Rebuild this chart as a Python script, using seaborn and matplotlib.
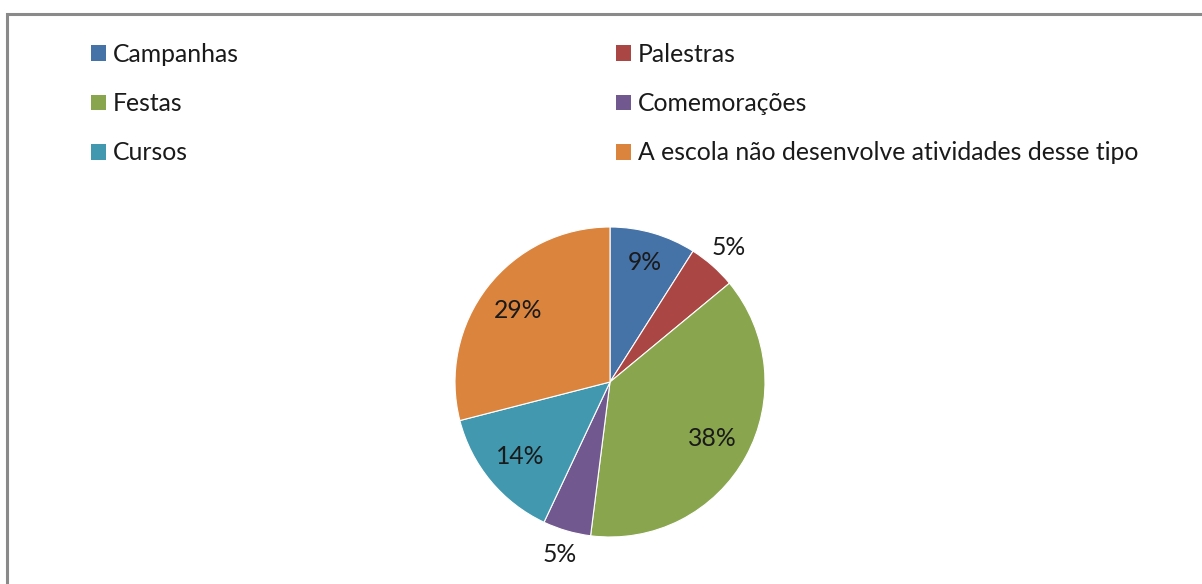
import numpy as np
import matplotlib
matplotlib.use("Agg")
import matplotlib.pyplot as plt
import seaborn as sns
from matplotlib.patches import Patch, Rectangle

categories = ["Campanhas", "Palestras", "Festas", "Comemorações", "Cursos",
              "A escola não desenvolve atividades desse tipo"]
values = [9, 5, 38, 5, 14, 29]
colors = ["#4572A7", "#AA4643", "#89A54E", "#71588F", "#4198AF", "#DB843D"]

sns.set_theme(style="white")
plt.rcParams['font.family'] = ['Lato', 'DejaVu Sans']
FS = 17.8

W, H = 1202, 584
fig = plt.figure(figsize=(W / 100, H / 100), dpi=100)
fig.patch.set_facecolor("white")

# frame (cut at right and bottom like the reference)
fig.patches.append(Rectangle((7 / W, -0.1), 1.2, (H - 14) / H + 0.1, transform=fig.transFigure,
                             fill=False, edgecolor="#8a8a8a", linewidth=2.2))

cx, cy, r = 610, 382, 155
ax = fig.add_axes([(cx - r) / W, (H - cy - r) / H, 2 * r / W, 2 * r / H])
wedges, texts, autotexts = ax.pie(values, colors=colors, startangle=90, counterclock=False,
                                  autopct=lambda p: f"{p:.0f}%", pctdistance=0.75,
                                  wedgeprops=dict(linewidth=0.8, edgecolor="white"),
                                  textprops=dict(fontsize=FS, color="#1a1a1a"))
ax.set_xlim(-1, 1)
ax.set_ylim(-1, 1)
ax.set_aspect("equal")
ax.axis("off")

# label placement like Excel's best fit: small slices outside
for w, t, v in zip(wedges, autotexts, values):
    ang = np.deg2rad((w.theta1 + w.theta2) / 2)
    if v <= 5:
        d = 1.16
    elif v < 10:
        d = 0.80
    else:
        d = 0.75
    t.set_position((d * np.cos(ang), d * np.sin(ang)))
    t.set_clip_on(False)

handles = [Patch(facecolor=c, edgecolor="none") for c in colors]
col1 = [0, 2, 4]
col2 = [1, 3, 5]
for idx, x0 in ((col1, 91), (col2, 616)):
    leg = fig.legend([handles[i] for i in idx], [categories[i] for i in idx],
                     loc="upper left", bbox_to_anchor=(x0 / W, 1 - 43 / H),
                     frameon=False, fontsize=FS, borderpad=0, borderaxespad=0,
                     handlelength=0.61, handleheight=0.61, handletextpad=0.28,
                     labelspacing=1.06)
    for tx in leg.get_texts():
        tx.set_color("#1a1a1a")

fig.savefig("out.png", dpi=100, facecolor="white")
